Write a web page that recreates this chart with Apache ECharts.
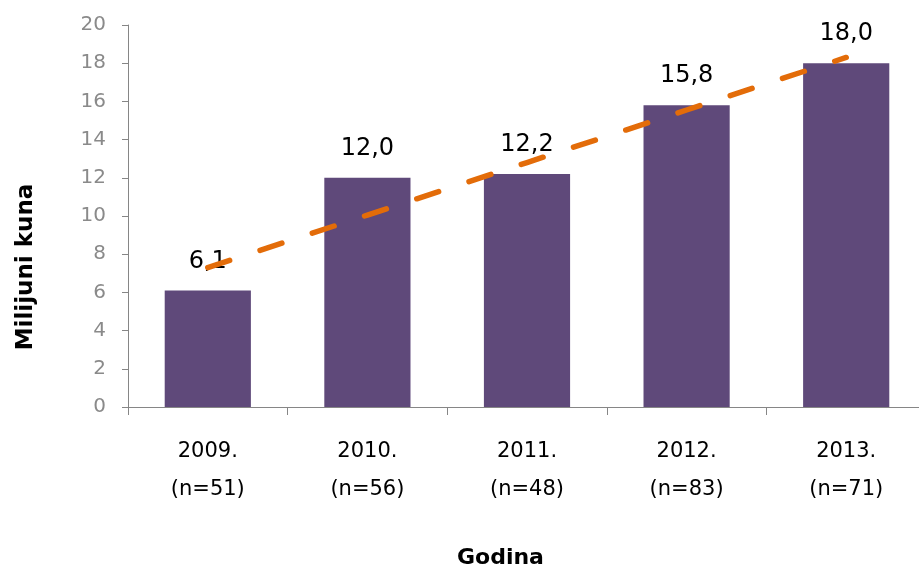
<!DOCTYPE html>
<html><head><meta charset="utf-8">
<script src="https://cdn.jsdelivr.net/npm/echarts@6/dist/echarts.min.js"></script>
<style>html,body{margin:0;padding:0;background:#fff;overflow:hidden}#c{width:932px;height:575px}</style>
</head><body><div id="c"></div>
<script>
var categories = ['2009.\n(n=51)', '2010.\n(n=56)', '2011.\n(n=48)', '2012.\n(n=83)', '2013.\n(n=71)'];
var values = [6.1, 12.0, 12.2, 15.8, 18.0];
var trend = [7.3, 10.05, 12.8, 15.55, 18.3];
var yTicks = {min: 0, max: 20, interval: 2};
var FONT = '"DejaVu Sans", "Noto Sans", sans-serif';

var chart = echarts.init(document.getElementById('c'), null, {renderer: 'canvas'});
chart.setOption({
  animation: false,
  grid: {left: 128, right: 6, top: 25, bottom: 168, containLabel: false},
  xAxis: {
    type: 'category', data: categories,
    axisLine: {lineStyle: {color: '#868686', width: 1}},
    axisTick: {show: true, length: 8, lineStyle: {color: '#868686'}},
    axisLabel: {color: '#000', fontFamily: FONT, fontSize: 21, lineHeight: 38, margin: 26}
  },
  yAxis: {
    type: 'value', min: yTicks.min, max: yTicks.max, interval: yTicks.interval,
    axisLine: {show: true, lineStyle: {color: '#868686', width: 1}},
    axisTick: {show: true, length: 6, lineStyle: {color: '#868686'}},
    splitLine: {show: false},
    axisLabel: {color: '#8a8a8a', fontFamily: FONT, fontSize: 20, margin: 22,
      formatter: function (v) { return String(v); }}
  },
  graphic: [
    {type: 'text', left: 457, top: 547,
     style: {text: 'Godina', fill: '#000', font: 'bold 22px ' + FONT}},
    {type: 'text', x: 26, y: 267, rotation: Math.PI / 2,
     style: {text: 'Milijuni kuna', fill: '#000', font: 'bold 23px ' + FONT, align: 'center', verticalAlign: 'middle'}}
  ],
  series: [
    {type: 'bar', data: values, barWidth: '54%', itemStyle: {color: '#5F497A'},
     label: {show: true, position: 'top', distance: 17, color: '#000', fontFamily: FONT, fontSize: 24,
       formatter: function (p) { return p.value.toFixed(1).replace('.', ','); }}},
    {type: 'line', data: trend, symbol: 'none', z: 5,
     lineStyle: {color: '#E36C09', width: 5.5, type: [23, 32], cap: 'round'}}
  ]
});
</script></body></html>
